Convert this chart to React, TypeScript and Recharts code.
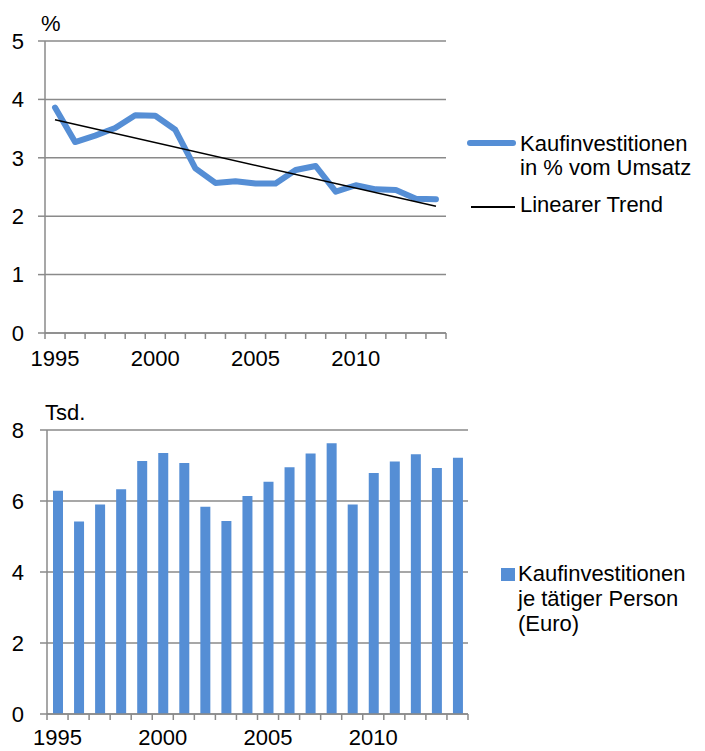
import React from "react";
import {
  LineChart,
  Line,
  BarChart,
  Bar,
  XAxis,
  YAxis,
  CartesianGrid,
} from "recharts";

const years = [
  "1995", "1996", "1997", "1998", "1999", "2000", "2001", "2002", "2003", "2004",
  "2005", "2006", "2007", "2008", "2009", "2010", "2011", "2012", "2013", "2014",
];

// Kaufinvestitionen in % vom Umsatz
const sharePct = [
  3.86, 3.27, 3.38, 3.51, 3.73, 3.72, 3.48, 2.82, 2.57, 2.6,
  2.56, 2.56, 2.79, 2.86, 2.42, 2.53, 2.46, 2.45, 2.3, 2.29,
];

// linear trend, endpoints (null in between)
const trendPct = [
  3.65, null, null, null, null, null, null, null, null, null,
  null, null, null, null, null, null, null, null, null, 2.17,
];

// Kaufinvestitionen je tätiger Person, Tsd. Euro
const perPerson = [
  6.29, 5.42, 5.9, 6.33, 7.13, 7.35, 7.07, 5.84, 5.44, 6.14,
  6.54, 6.95, 7.34, 7.63, 5.9, 6.79, 7.11, 7.32, 6.93, 7.22,
];

const pctTicks = [0, 1, 2, 3, 4, 5];
const tsdTicks = [0, 2, 4, 6, 8];

const lineData = years.map((y, i) => ({ year: y, share: sharePct[i], trend: trendPct[i] }));
const barData = years.map((y, i) => ({ year: y, value: perPerson[i] }));

const BLUE = "#558ED5";
const GRID = "#8a8a8a";
const FONT = "'Liberation Sans', Arial, sans-serif";
const FS = 22;

const YearTick = (props: any) => {
  const { x, y, payload, index, band, count, labelDy } = props;
  const year = Number(payload.value);
  const x0 = x - band / 2;
  return (
    <g>
      <line x1={x0} x2={x0} y1={y} y2={y + 6} stroke={GRID} strokeWidth={1.5} />
      {index === count - 1 && (
        <line x1={x + band / 2} x2={x + band / 2} y1={y} y2={y + 6} stroke={GRID} strokeWidth={1.5} />
      )}
      {year % 5 === 0 && (
        <text x={x} y={y + labelDy} textAnchor="middle" fill="#000" fontSize={FS} fontFamily={FONT}>
          {payload.value}
        </text>
      )}
    </g>
  );
};

export default function App() {
  const topBand = 401 / years.length;
  const botBand = 421 / years.length;
  const text: React.CSSProperties = {
    position: "absolute",
    fontFamily: FONT,
    fontSize: FS,
    lineHeight: "24px",
    color: "#000",
    whiteSpace: "nowrap",
  };
  return (
    <div style={{ position: "absolute", left: 0, top: 0, width: 705, height: 751, background: "#fff", overflow: "hidden" }}>
      <div style={{ position: "absolute", left: 0, top: 0 }}>
        <LineChart width={460} height={373} data={lineData} margin={{ top: 41, right: 14, bottom: 0, left: 0 }}>
          <CartesianGrid vertical={false} stroke={GRID} strokeWidth={1.5} />
          <XAxis
            dataKey="year"
            scale="band"
            interval={0}
            height={40}
            axisLine={{ stroke: GRID, strokeWidth: 1.5 }}
            tickLine={false}
            tickSize={0}
            tickMargin={0}
            tick={(p: any) => <YearTick {...p} band={topBand} count={years.length} labelDy={33} />}
          />
          <YAxis
            domain={[0, 5]}
            ticks={pctTicks}
            width={45}
            axisLine={{ stroke: GRID, strokeWidth: 1.5 }}
            tickLine={{ stroke: GRID, strokeWidth: 1.5 }}
            tickSize={7}
            tickMargin={14}
            tick={{ fill: "#000", fontSize: FS, fontFamily: FONT }}
          />
          <Line
            dataKey="share"
            stroke={BLUE}
            strokeWidth={6}
            strokeLinecap="round"
            strokeLinejoin="round"
            dot={false}
            isAnimationActive={false}
          />
          <Line
            dataKey="trend"
            stroke="#000"
            strokeWidth={1.5}
            dot={false}
            connectNulls
            isAnimationActive={false}
          />
        </LineChart>
      </div>
      <div style={{ ...text, left: 41, top: 12 }}>%</div>

      {/* legend top */}
      <div style={{ position: "absolute", left: 467, top: 140, width: 49, height: 6, borderRadius: 3, background: BLUE }} />
      <div style={{ ...text, left: 520, top: 132 }}>
        Kaufinvestitionen
        <br />
        in % vom Umsatz
      </div>
      <div style={{ position: "absolute", left: 471, top: 206, width: 44, height: 1.5, background: "#000" }} />
      <div style={{ ...text, left: 520, top: 193 }}>Linearer Trend</div>

      <div style={{ position: "absolute", left: 0, top: 400 }}>
        <BarChart width={480} height={351} data={barData} margin={{ top: 30, right: 12, bottom: 0, left: 0 }} barSize={10}>
          <CartesianGrid vertical={false} stroke={GRID} strokeWidth={1.5} />
          <XAxis
            dataKey="year"
            interval={0}
            height={37}
            axisLine={{ stroke: GRID, strokeWidth: 1.5 }}
            tickLine={false}
            tickSize={0}
            tickMargin={0}
            tick={(p: any) => <YearTick {...p} band={botBand} count={years.length} labelDy={31} />}
          />
          <YAxis
            domain={[0, 8]}
            ticks={tsdTicks}
            width={47}
            axisLine={{ stroke: GRID, strokeWidth: 1.5 }}
            tickLine={{ stroke: GRID, strokeWidth: 1.5 }}
            tickSize={7}
            tickMargin={16}
            tick={{ fill: "#000", fontSize: FS, fontFamily: FONT }}
          />
          <Bar dataKey="value" fill={BLUE} isAnimationActive={false} />
        </BarChart>
      </div>
      <div style={{ ...text, left: 45, top: 401 }}>Tsd.</div>

      {/* legend bottom */}
      <div style={{ position: "absolute", left: 501, top: 568, width: 14, height: 13, background: BLUE }} />
      <div style={{ ...text, left: 518, top: 561, lineHeight: "25px" }}>
        Kaufinvestitionen
        <br />
        je tätiger Person
        <br />
        (Euro)
      </div>
    </div>
  );
}
